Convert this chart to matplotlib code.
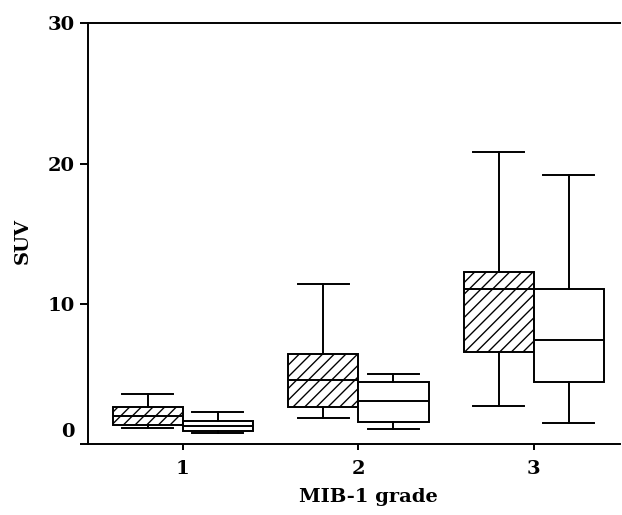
import matplotlib
matplotlib.use("Agg")
import matplotlib.pyplot as plt
import matplotlib.transforms as mtransforms

# MIB-1 grade groups, two box series per group (hatched / open)
grades = [1, 2, 3]
# whisker low, Q1, median, Q3, whisker high
hatched_stats = [
    [1.2, 1.35, 2.05, 2.7, 3.6],
    [1.85, 2.7, 4.6, 6.45, 11.4],
    [2.75, 6.55, 11.1, 12.25, 20.8],
]
open_stats = [
    [0.8, 0.98, 1.3, 1.7, 2.33],
    [1.1, 1.6, 3.1, 4.45, 5.0],
    [1.55, 4.45, 7.45, 11.1, 19.2],
]
ytick_vals = [0, 10, 20, 30]

plt.rcParams['hatch.linewidth'] = 0.7
plt.rcParams['font.family'] = ['DejaVu Serif']

DPI = 140
fig = plt.figure(figsize=(622 / DPI, 515 / DPI), dpi=DPI)
ax = fig.add_axes([0.1415, 0.137, 0.855, 0.818])


def to_bxp(rows):
    return [{'whislo': r[0], 'q1': r[1], 'med': r[2], 'q3': r[3], 'whishi': r[4], 'fliers': []}
            for r in rows]


width = 0.4
line_kw = dict(color='black', linewidth=1.0)
for stats, offset, hatch in [(hatched_stats, -0.2, '////'), (open_stats, 0.2, None)]:
    pos = [g + offset for g in grades]
    res = ax.bxp(to_bxp(stats), positions=pos, widths=width, patch_artist=True,
                 showfliers=False, manage_ticks=False,
                 boxprops=dict(facecolor='white', edgecolor='black', linewidth=1.0),
                 medianprops=line_kw, whiskerprops=line_kw, capprops=line_kw,
                 capwidths=0.29)
    for b in res['boxes']:
        if hatch:
            b.set_hatch(hatch)

ax.set_xlim(0.46, 3.49)
ax.set_ylim(0, 30)
ax.set_xticks(grades)
ax.set_xticklabels([str(g) for g in grades], fontsize=10, fontweight='bold')
ax.set_yticks(ytick_vals)
ax.set_yticklabels([str(v) for v in ytick_vals], fontsize=10, fontweight='bold')
ax.tick_params(axis='y', length=4, width=1, pad=3)
ax.tick_params(axis='x', length=3, width=1, pad=5)

# the "0" label sits a bit above the axis in the original
zero_lab = ax.yaxis.get_major_ticks()[0].label1
zero_lab.set_transform(zero_lab.get_transform() +
                       mtransforms.ScaledTranslation(0, 7.5 / 72, fig.dpi_scale_trans))

ax.spines['right'].set_visible(False)
for s in ['left', 'bottom', 'top']:
    ax.spines[s].set_linewidth(1.0)

ax.set_xlabel('MIB-1 grade', fontsize=10, fontweight='bold', labelpad=5)
ax.xaxis.label.set_x(0.528)
ax.set_ylabel('SUV', fontsize=10, fontweight='bold', labelpad=8)
ax.yaxis.label.set_y(0.483)

fig.savefig('out.png', dpi=DPI)
